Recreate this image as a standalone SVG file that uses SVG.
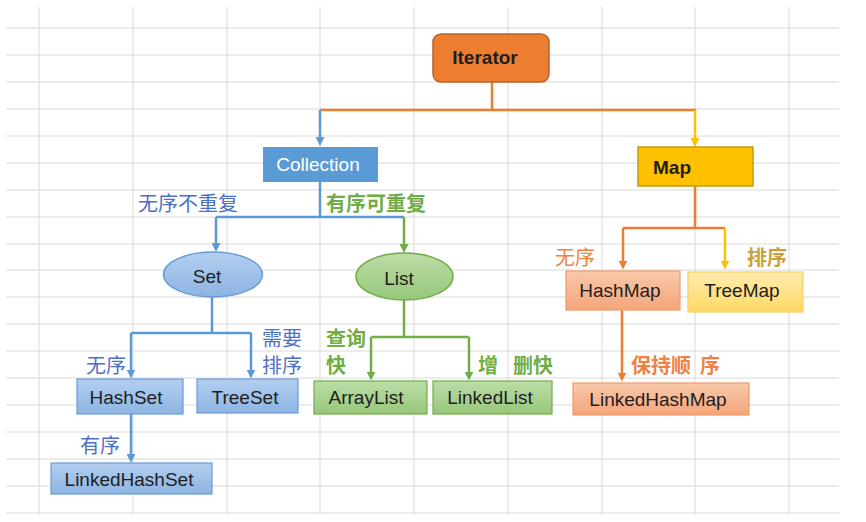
<svg xmlns="http://www.w3.org/2000/svg" width="866" height="522" viewBox="0 0 866 522">
<style>
.grid{stroke:#d9d9d9;stroke-width:1;fill:none}
.t{font-family:"Liberation Sans",Arial,sans-serif;font-size:19px;fill:#1e1e1e;text-anchor:middle}
.b{font-weight:bold}
.cn{font-family:"Noto Sans CJK SC",sans-serif;font-size:20px}
.lb{fill:#4E6FC6}
.lg{fill:#70AD47;font-weight:bold}
.lo{fill:#F0813F}
.ly{fill:#C9A13A;font-weight:bold}
.c{fill:none;stroke-width:2.5}
.cb{stroke:#5B9BD5}
.cg{stroke:#70AD47}
.co{stroke:#ED7D31}
.cy{stroke:#FFC000}
</style>
<defs>
<marker id="ab" viewBox="0 0 10 10" refX="5" refY="5" markerWidth="9" markerHeight="9" markerUnits="userSpaceOnUse" orient="auto"><path d="M0,0 L10,5 L0,10 z" fill="#5B9BD5"/></marker>
<marker id="ag" viewBox="0 0 10 10" refX="5" refY="5" markerWidth="9" markerHeight="9" markerUnits="userSpaceOnUse" orient="auto"><path d="M0,0 L10,5 L0,10 z" fill="#70AD47"/></marker>
<marker id="ao" viewBox="0 0 10 10" refX="5" refY="5" markerWidth="9" markerHeight="9" markerUnits="userSpaceOnUse" orient="auto"><path d="M0,0 L10,5 L0,10 z" fill="#ED7D31"/></marker>
<marker id="ay" viewBox="0 0 10 10" refX="5" refY="5" markerWidth="9" markerHeight="9" markerUnits="userSpaceOnUse" orient="auto"><path d="M0,0 L10,5 L0,10 z" fill="#FFC000"/></marker>
<linearGradient id="gb" x1="0" y1="0" x2="0" y2="1"><stop offset="0" stop-color="#B3CFF0"/><stop offset="1" stop-color="#8DB4E2"/></linearGradient>
<linearGradient id="gg" x1="0" y1="0" x2="0" y2="1"><stop offset="0" stop-color="#BCDDA8"/><stop offset="1" stop-color="#97C77A"/></linearGradient>
<linearGradient id="go" x1="0" y1="0" x2="0" y2="1"><stop offset="0" stop-color="#F9C9AB"/><stop offset="1" stop-color="#F4A57A"/></linearGradient>
<linearGradient id="gy" x1="0" y1="0" x2="0" y2="1"><stop offset="0" stop-color="#FFEBAE"/><stop offset="1" stop-color="#FFD966"/></linearGradient>
</defs>
<rect width="866" height="522" fill="#ffffff"/>
<g id="grid">
<path class="grid" d="M6,28H839M6,55H839M6,82H839M6,109H839M6,136H839M6,163H839M6,190H839M6,217H839M6,244H839M6,270H839M6,297H839M6,324H839M6,351H839M6,378H839M6,405H839M6,432H839M6,459H839M6,486H839M6,513H839"/>
<path class="grid" d="M39,7V515M133,7V515M227,7V515M320,7V515M414,7V515M508,7V515M602,7V515M695,7V515M789,7V515"/>
</g>
<g id="connectors">
<path class="c co" d="M492,82V110M320,110H696"/>
<path class="c cb" d="M320,110V141.5" marker-end="url(#ab)"/>
<path class="c cy" d="M695,110V142.5" marker-end="url(#ay)"/>
<path class="c cb" d="M320,182V217M216,217H404"/>
<path class="c cb" d="M216,217V247.5" marker-end="url(#ab)"/>
<path class="c cg" d="M404,217V248.5" marker-end="url(#ag)"/>
<path class="c cb" d="M212,297V333M131,333H251"/>
<path class="c cb" d="M131,333V374" marker-end="url(#ab)"/>
<path class="c cb" d="M251,333V374" marker-end="url(#ab)"/>
<path class="c cb" d="M131,414V458.5" marker-end="url(#ab)"/>
<path class="c cg" d="M404,300V337M371,337H469"/>
<path class="c cg" d="M371,337V376" marker-end="url(#ag)"/>
<path class="c cg" d="M469,337V376" marker-end="url(#ag)"/>
<path class="c co" d="M695,186V228M623,228H725"/>
<path class="c co" d="M623,228V265" marker-end="url(#ao)"/>
<path class="c cy" d="M725,228V265" marker-end="url(#ay)"/>
<path class="c co" d="M622,310V377" marker-end="url(#ao)"/>
</g>
<g id="Iterator"><rect x="433" y="34" width="116" height="48" rx="8" fill="#ED7D31" stroke="#B8612A" stroke-width="1.5"/><text class="t b" x="485" y="64">Iterator</text></g>
<g id="Collection"><rect x="263" y="147" width="115" height="35" fill="#5B9BD5"/><text class="t" x="318" y="171" fill="#ffffff" style="fill:#ffffff">Collection</text></g>
<g id="Map"><rect x="638" y="147" width="115" height="39" fill="#FFC000" stroke="#C49A12" stroke-width="1.5"/><text class="t b" x="672" y="174">Map</text></g>
<g id="Set"><ellipse cx="213" cy="274.5" rx="49.5" ry="22.5" fill="url(#gb)" stroke="#6A9CD6" stroke-width="1.5"/><text class="t" x="207" y="283">Set</text></g>
<g id="List"><ellipse cx="404.5" cy="276.5" rx="48.5" ry="23.5" fill="url(#gg)" stroke="#70AD47" stroke-width="1.5"/><text class="t" x="399" y="285">List</text></g>
<g id="HashSet"><rect x="77" y="379" width="106" height="35" fill="url(#gb)" stroke="#6A9CD6" stroke-width="1.2"/><text class="t" x="126" y="404">HashSet</text></g>
<g id="TreeSet"><rect x="197" y="379" width="101" height="34" fill="url(#gb)" stroke="#6A9CD6" stroke-width="1.2"/><text class="t" x="245" y="404">TreeSet</text></g>
<g id="LinkedHashSet"><rect x="51" y="463" width="161" height="31" fill="url(#gb)" stroke="#6A9CD6" stroke-width="1.2"/><text class="t" x="129" y="486">LinkedHashSet</text></g>
<g id="ArrayList"><rect x="314" y="381" width="113" height="33" fill="url(#gg)" stroke="#70AD47" stroke-width="1.2"/><text class="t" x="366" y="404">ArrayList</text></g>
<g id="LinkedList"><rect x="433" y="381" width="119" height="33" fill="url(#gg)" stroke="#70AD47" stroke-width="1.2"/><text class="t" x="490" y="404">LinkedList</text></g>
<g id="HashMap"><rect x="566" y="271" width="114" height="39" fill="url(#go)" stroke="#F09A6A" stroke-width="1.2"/><text class="t" x="620" y="297">HashMap</text></g>
<g id="TreeMap"><rect x="688" y="272" width="115" height="40" fill="url(#gy)" stroke="#F8D060" stroke-width="1.2"/><text class="t" x="742" y="297">TreeMap</text></g>
<g id="LinkedHashMap"><rect x="573" y="383" width="176" height="32" fill="url(#go)" stroke="#F09A6A" stroke-width="1.2"/><text class="t" x="658" y="406">LinkedHashMap</text></g>
<g id="labels">
<text class="cn lb" x="138" y="211">无序不重复</text>
<text class="cn lg" x="326" y="211">有序可重复</text>
<text class="cn lb" x="86" y="373">无序</text>
<text class="cn lb" x="262" y="346">需要</text>
<text class="cn lb" x="262" y="373">排序</text>
<text class="cn lb" x="80" y="453">有序</text>
<text class="cn lg" x="326" y="346">查询</text>
<text class="cn lg" x="326" y="373">快</text>
<text class="cn lg" x="478" y="373">增</text>
<text class="cn lg" x="513" y="373">删快</text>
<text class="cn lo" x="555" y="265">无序</text>
<text class="cn ly" x="747" y="265">排序</text>
<text class="cn lo" x="631" y="373" style="font-weight:bold" xml:space="preserve">保持顺  序</text>
</g>
</svg>
